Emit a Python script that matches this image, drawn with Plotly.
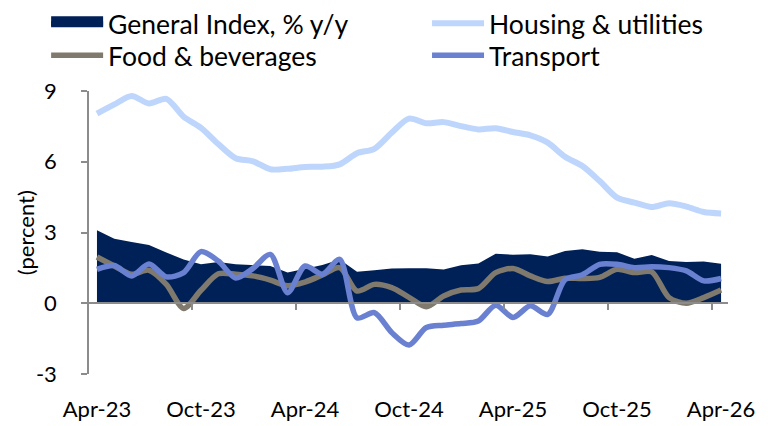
import plotly.graph_objects as go

months = ["Apr-23", "May-23", "Jun-23", "Jul-23", "Aug-23", "Sep-23", "Oct-23", "Nov-23", "Dec-23",
          "Jan-24", "Feb-24", "Mar-24", "Apr-24", "May-24", "Jun-24", "Jul-24", "Aug-24", "Sep-24",
          "Oct-24", "Nov-24", "Dec-24", "Jan-25", "Feb-25", "Mar-25", "Apr-25", "May-25", "Jun-25",
          "Jul-25", "Aug-25", "Sep-25", "Oct-25", "Nov-25", "Dec-25", "Jan-26", "Feb-26", "Mar-26",
          "Apr-26"]

general_index = [3.1, 2.74, 2.6, 2.47, 2.15, 1.86, 1.65, 1.75, 1.65, 1.62, 1.58, 1.3, 1.47, 1.62,
                 1.86, 1.34, 1.4, 1.47, 1.48, 1.48, 1.43, 1.61, 1.69, 2.1, 2.06, 2.08, 1.98, 2.22,
                 2.29, 2.18, 2.16, 1.89, 2.05, 1.79, 1.75, 1.77, 1.68]
housing = [8.04, 8.43, 8.79, 8.47, 8.67, 7.91, 7.44, 6.75, 6.15, 6.02, 5.68, 5.7, 5.78, 5.79, 5.89,
           6.36, 6.55, 7.23, 7.83, 7.63, 7.68, 7.51, 7.37, 7.42, 7.26, 7.12, 6.81, 6.21, 5.82, 5.18,
           4.48, 4.27, 4.08, 4.24, 4.1, 3.87, 3.81]
food = [1.96, 1.58, 1.23, 1.4, 0.8, -0.22, 0.55, 1.25, 1.23, 1.16, 0.98, 0.74, 0.9, 1.2, 1.51, 0.52,
        0.8, 0.66, 0.25, -0.15, 0.31, 0.56, 0.62, 1.3, 1.47, 1.16, 0.92, 1.06, 1.05, 1.1, 1.44, 1.3,
        1.33, 0.24, 0.0, 0.24, 0.56]
transport = [1.44, 1.6, 1.16, 1.66, 1.12, 1.3, 2.19, 1.79, 1.07, 1.48, 2.07, 0.45, 1.58, 1.23, 1.86,
             -0.62, -0.4, -1.24, -1.77, -1.03, -0.93, -0.86, -0.75, -0.08, -0.6, -0.11, -0.47, 1.0,
             1.21, 1.65, 1.65, 1.51, 1.55, 1.51, 1.37, 0.95, 1.05]

y_ticks = [-3, 0, 3, 6, 9]
y_ticktext = ["-3", "0", "3", "6", "9"]

tick_step = 6
x = list(range(len(months)))
tickvals = x[::tick_step]
ticktext = months[::tick_step]
boundary_ticks = [v - 0.5 for v in tickvals[1:]]

NAVY = "#002157"
HOUSING = "#BFD6FC"
FOOD = "#7F7A6D"
TRANSPORT = "#6A80D0"
AXIS = "#8C8C8C"
FONT = "Lato"

fig = go.Figure()
# General index area (legend handled by dummy entry below)
fig.add_trace(go.Scatter(x=x, y=general_index, mode="lines", fill="tozeroy",
                         fillcolor=NAVY, line=dict(color=NAVY, width=0),
                         name="General Index, % y/y", showlegend=False, hoverinfo="skip"))
fig.add_trace(go.Scatter(x=[None], y=[None], mode="lines", fill="tozeroy",
                         fillcolor=NAVY, line=dict(color=NAVY, width=10),
                         name="General Index, % y/y", legend="legend"))
fig.add_trace(go.Scatter(x=x, y=housing, mode="lines", name="Housing & utilities",
                         line=dict(color=HOUSING, width=6, shape="spline", smoothing=0.8),
                         legend="legend2"))
fig.add_trace(go.Scatter(x=x, y=food, mode="lines", name="Food & beverages",
                         line=dict(color=FOOD, width=5.5, shape="spline", smoothing=0.8),
                         legend="legend3"))
fig.add_trace(go.Scatter(x=x, y=transport, mode="lines", name="Transport",
                         line=dict(color=TRANSPORT, width=5.5, shape="spline", smoothing=0.8),
                         legend="legend4"))
# invisible trace to carry the zero-line axis
fig.add_trace(go.Scatter(x=[x[0]], y=[None], xaxis="x2", showlegend=False, hoverinfo="skip"))


def leg(xpos, ypos):
    return dict(orientation="h", xref="paper", yref="paper",
                x=xpos, y=ypos, xanchor="left", yanchor="middle",
                itemwidth=52, font=dict(size=26.5, family=FONT, color="black"),
                bgcolor="rgba(0,0,0,0)")


xrange = [-0.46, len(months) - 1 + 0.4]
fig.update_layout(
    width=771, height=426,
    margin=dict(l=81, r=51, t=83, b=60, autoexpand=False),
    paper_bgcolor="white", plot_bgcolor="white",
    font=dict(family=FONT, color="black", size=22),
    showlegend=True,
    legend=leg(-0.0671, 1.2385),
    legend2=leg(0.529, 1.2385),
    legend3=leg(-0.0671, 1.1254),
    legend4=leg(0.529, 1.1254),
    xaxis=dict(range=xrange, tickmode="array", tickvals=tickvals, ticktext=ticktext,
               showline=False, showgrid=False, zeroline=False, ticks="",
               ticklabelstandoff=20, tickfont=dict(size=22)),
    xaxis2=dict(matches="x", overlaying="x", anchor="free", position=0.25,
                side="bottom", showline=True, linecolor=AXIS, linewidth=1.5,
                showticklabels=False, showgrid=False, zeroline=False, ticks="",
                minor=dict(tickmode="array", tickvals=boundary_ticks, ticks="outside",
                           ticklen=6, tickwidth=1.5, tickcolor=AXIS)),
    yaxis=dict(range=[-3, 9], tickmode="array", tickvals=y_ticks, ticktext=y_ticktext,
               showline=True, linecolor=AXIS, linewidth=1.5, ticks="outside",
               ticklen=6, tickwidth=1.5, tickcolor=AXIS, showgrid=False, zeroline=False,
               ticklabelstandoff=20, tickfont=dict(size=22)),
    annotations=[dict(text="(percent)", textangle=-90, xref="paper", yref="paper",
                      x=-0.099, y=0.5, xanchor="center", yanchor="middle",
                      showarrow=False, font=dict(size=22, family=FONT, color="black"))],
)

fig.write_html("out.html")
